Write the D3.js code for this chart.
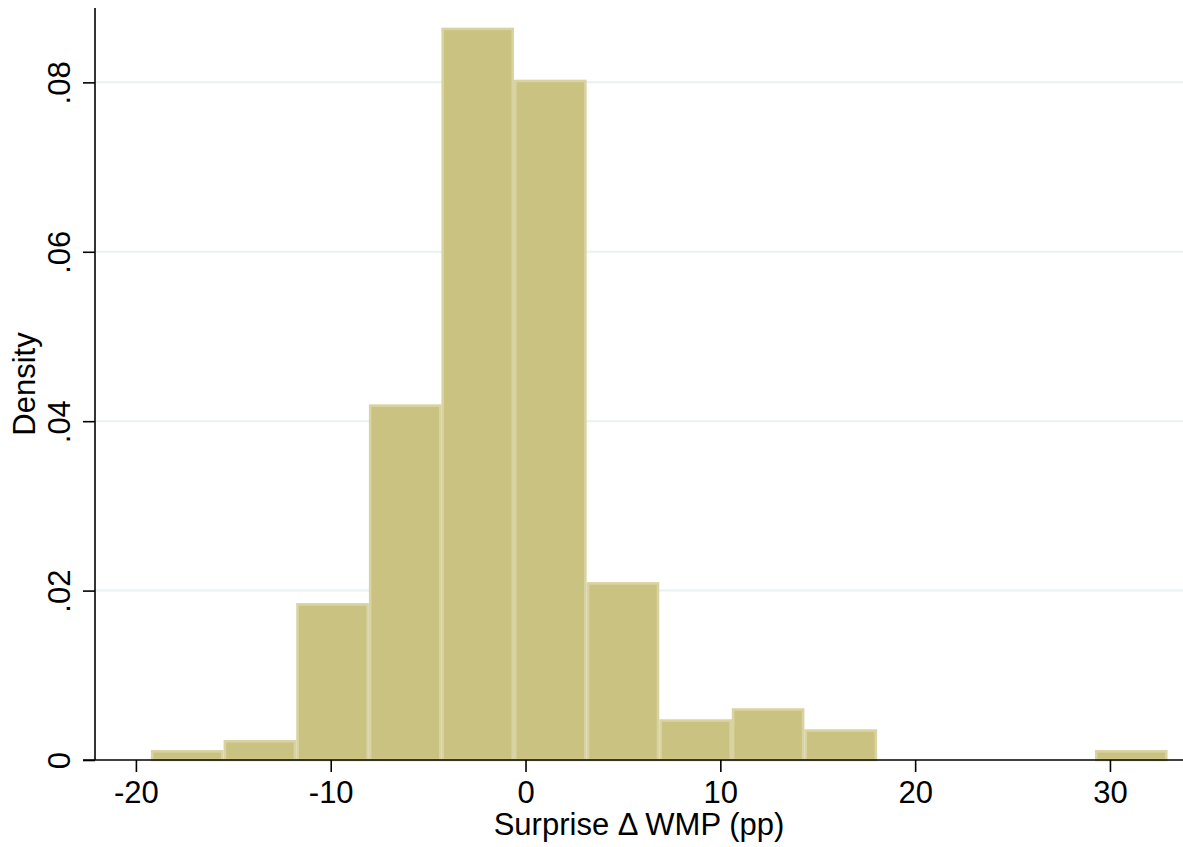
<!DOCTYPE html>
<html>
<head>
<meta charset="utf-8">
<script src="https://cdn.jsdelivr.net/npm/d3@7"></script>
<style>
  html, body { margin: 0; padding: 0; background: #fff; }
  svg { display: block; }
  text { font-family: "Liberation Sans", Arial, Helvetica, sans-serif; fill: #000; }
</style>
</head>
<body>
<svg id="chart" width="1183" height="847"></svg>
<script>
// histogram bins (lower edge, width)
var binLo = [-19.23, -15.50, -11.77, -8.04, -4.32, -0.59, 3.14, 6.87, 10.59, 14.32, 18.05, 21.78, 25.51, 29.23];
var binWidth = 3.728;
var density = [0.00118, 0.00236, 0.01852, 0.04199, 0.08646, 0.08032, 0.0210, 0.00481, 0.00611, 0.00363, 0, 0, 0, 0.00118];

var xTicks = [-20, -10, 0, 10, 20, 30];
var yTicks = [0, 0.02, 0.04, 0.06, 0.08];
var yTickLabels = ['0', '.02', '.04', '.06', '.08'];
var xTitle = 'Surprise \u0394 WMP (pp)';
var yTitle = 'Density';

(function () {
  var plotL = 95, plotR = 1183, plotT = 8, plotB = 760;
  var fontSize = 31;

  var x = d3.scaleLinear().domain([-22.10, 33.75]).range([plotL, plotR]);
  var y = d3.scaleLinear().domain([0, 0.08878]).range([plotB, plotT]);

  var svg = d3.select('#chart');

  // gridlines
  svg.append('g')
    .selectAll('line')
      .data(yTicks.slice(1))
    .enter().append('line')
      .attr('x1', plotL).attr('x2', plotR)
      .attr('y1', function(d) { return y(d); })
      .attr('y2', function(d) { return y(d); })
      .attr('stroke', '#e9f1f2')
      .attr('stroke-width', 2);

  // bars, outline drawn inside each bar
  var inset = 1.3;
  svg.append('g')
    .selectAll('rect')
      .data(binLo.map(function(lo, i) { return { lo: lo, d: density[i] }; })
        .filter(function(b) { return b.d > 0; }))
    .enter().append('rect')
      .attr('x', function(b) { return x(b.lo) + inset; })
      .attr('y', function(b) { return y(b.d) + inset; })
      .attr('width', function(b) { return x(b.lo + binWidth) - x(b.lo) - 2 * inset; })
      .attr('height', function(b) { return y(0) - y(b.d) - inset; })
      .attr('fill', '#cac280')
      .attr('stroke', '#d8d3a1')
      .attr('stroke-width', 2.6);

  // x axis
  var xAxis = d3.axisBottom(x)
    .tickValues(xTicks)
    .tickSize(12)
    .tickSizeOuter(0)
    .tickFormat(function(d) { return String(d); });

  var gx = svg.append('g')
    .attr('transform', 'translate(0,' + plotB + ')')
    .call(xAxis);
  gx.select('.domain').attr('d', 'M' + (plotL - 12) + ',0H' + plotR).attr('stroke', '#000').attr('stroke-width', 1.6);
  gx.selectAll('.tick line').attr('stroke', '#000').attr('stroke-width', 1.6);
  gx.selectAll('.tick text')
    .attr('font-size', fontSize)
    .attr('fill', '#000')
    .attr('dy', null)
    .attr('y', 43);

  // y axis
  var yAxis = d3.axisLeft(y)
    .tickValues(yTicks)
    .tickSize(12)
    .tickSizeOuter(0)
    .tickFormat(function(d, i) { return yTickLabels[i]; });

  var gy = svg.append('g')
    .attr('transform', 'translate(' + plotL + ',0)')
    .call(yAxis);
  gy.select('.domain').attr('d', 'M0,' + plotT + 'V' + plotB).attr('stroke', '#000').attr('stroke-width', 1.6);
  gy.selectAll('.tick line').attr('stroke', '#000').attr('stroke-width', 1.6);
  gy.selectAll('.tick text')
    .attr('font-size', fontSize)
    .attr('fill', '#000')
    .attr('x', null).attr('dy', null)
    .attr('text-anchor', 'middle')
    .attr('transform', 'translate(-25,0) rotate(-90)');

  // titles
  svg.append('text')
    .attr('x', (plotL + plotR) / 2)
    .attr('y', 835)
    .attr('text-anchor', 'middle')
    .attr('font-size', fontSize)
    .text(xTitle);

  svg.append('text')
    .attr('transform', 'translate(35,' + ((plotT + plotB) / 2) + ') rotate(-90)')
    .attr('text-anchor', 'middle')
    .attr('font-size', fontSize)
    .text(yTitle);
})();
</script>
</body>
</html>
